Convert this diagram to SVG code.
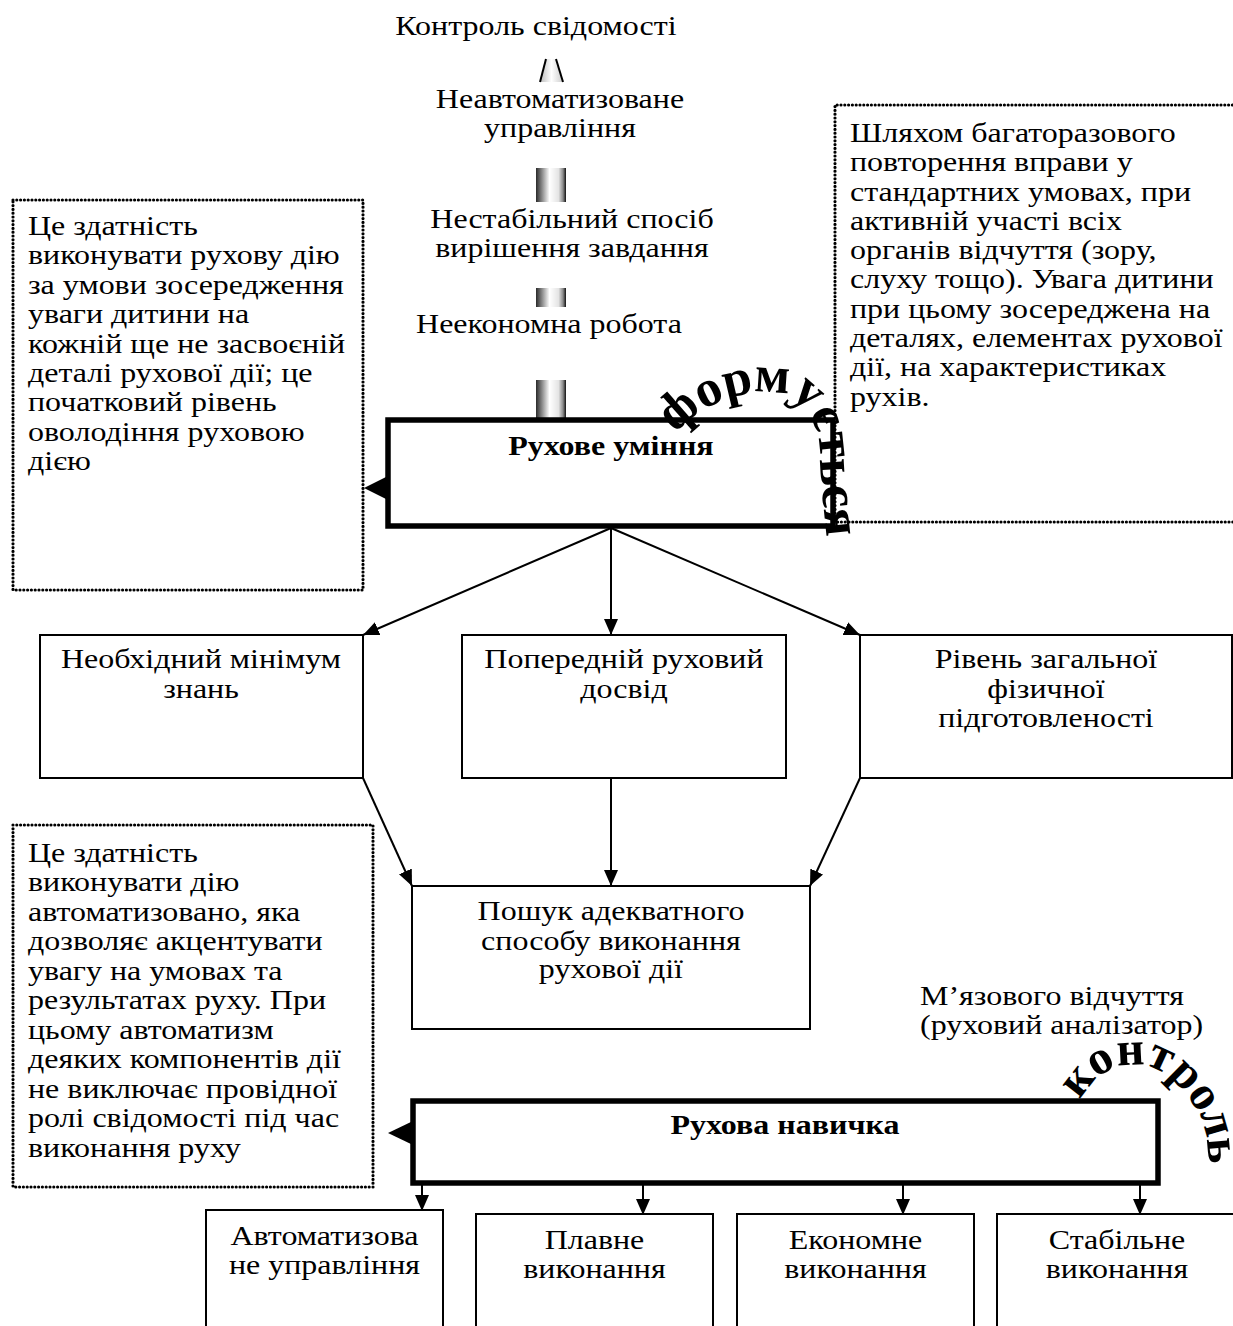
<svg xmlns="http://www.w3.org/2000/svg" width="1233" height="1326" viewBox="0 0 1233 1326">
<defs>
<style>
text{font-family:"Liberation Serif","Times New Roman",serif;font-size:27px;fill:#000}
.s{transform-box:fill-box;transform-origin:0% 50%;transform:scaleX(1.185)}
.c{text-anchor:middle;transform-box:fill-box;transform-origin:50% 50%;transform:scaleX(1.185)}
.b{font-weight:bold}
.big{font-weight:bold;font-size:52px}
.box{fill:#fff;stroke:#000;stroke-width:2}
.thick{fill:#fff;stroke:#000;stroke-width:5.5}
.dot{fill:none;stroke:#000;stroke-width:3.2;stroke-linecap:round;stroke-dasharray:0 3.8}
.con{fill:none;stroke:#000;stroke-width:2}
.bar{fill:url(#g);stroke:none}
</style>
<linearGradient id="g" x1="0" y1="0" x2="1" y2="0">
<stop offset="0" stop-color="#2a2a2a"/>
<stop offset="0.45" stop-color="#ffffff"/>
<stop offset="0.75" stop-color="#e4e4e4"/>
<stop offset="0.9" stop-color="#8a8a8a"/>
<stop offset="1" stop-color="#111"/>
</linearGradient>
<linearGradient id="g2" x1="0" y1="0" x2="1" y2="0">
<stop offset="0" stop-color="#bbb"/>
<stop offset="0.5" stop-color="#fff"/>
<stop offset="1" stop-color="#ccc"/>
</linearGradient>
<marker id="ah" markerUnits="userSpaceOnUse" markerWidth="16" markerHeight="14" refX="16" refY="7" orient="auto">
<path d="M0,0 L16,7 L0,14 z" fill="#000"/>
</marker>
<path id="arc1" d="M676,434 C698,405 738,392 768,392 C800,392 820,420 820,456 C820,490 826,515 830,580"/>
<path id="arc2" d="M1080,1100 C1098,1070 1118,1063 1142,1065 C1167,1068 1188,1093 1200,1116 C1207,1130 1210,1153 1210,1220"/>
</defs>

<g id="top-chain">
<text class="c" x="536" y="35">Контроль свідомості</text>
<polygon points="546,59 556,59 563,82 540,82" fill="url(#g2)"/>
<line x1="546" y1="59" x2="540" y2="82" stroke="#000" stroke-width="2"/>
<line x1="556" y1="59" x2="563" y2="82" stroke="#000" stroke-width="2"/>
<text class="c" x="560" y="108">Неавтоматизоване</text>
<text class="c" x="560" y="137">управління</text>
<rect class="bar" x="536" y="168" width="30" height="34"/>
<text class="c" x="572" y="228">Нестабільний спосіб</text>
<text class="c" x="572" y="257">вирішення завдання</text>
<rect class="bar" x="536" y="288" width="30" height="19"/>
<text class="c" x="549" y="333">Неекономна робота</text>
<rect class="bar" x="536" y="380" width="30" height="38"/>
</g>

<g id="note-top-left">
<rect class="dot" x="13" y="200" width="350" height="390"/>
<text class="s" x="28" y="235">Це здатність</text>
<text class="s" x="28" y="264.4">виконувати рухову дію</text>
<text class="s" x="28" y="293.8">за умови зосередження</text>
<text class="s" x="28" y="323.2">уваги дитини на</text>
<text class="s" x="28" y="352.6">кожній ще не засвоєній</text>
<text class="s" x="28" y="382">деталі рухової дії; це</text>
<text class="s" x="28" y="411.4">початковий рівень</text>
<text class="s" x="28" y="440.8">оволодіння руховою</text>
<text class="s" x="28" y="470.2">дією</text>
</g>

<g id="note-top-right">
<path class="dot" d="M1240,105 H835 V522 H1240"/>
<text class="s" x="850" y="142">Шляхом багаторазового</text>
<text class="s" x="850" y="171.3">повторення вправи у</text>
<text class="s" x="850" y="200.6">стандартних умовах, при</text>
<text class="s" x="850" y="229.9">активній участі всіх</text>
<text class="s" x="850" y="259.2">органів відчуття (зору,</text>
<text class="s" x="850" y="288.5">слуху тощо). Увага дитини</text>
<text class="s" x="850" y="317.8">при цьому зосереджена на</text>
<text class="s" x="850" y="347.1">деталях, елементах рухової</text>
<text class="s" x="850" y="376.4">дії, на характеристиках</text>
<text class="s" x="850" y="405.7">рухів.</text>
</g>

<g id="rukhove-uminnia">
<rect class="thick" x="388" y="420" width="445" height="106"/>
<polygon points="364,488 388,476 388,500" fill="#000"/>
<text class="c b" x="611" y="455">Рухове уміння</text>
</g>

<g id="formuietsia">
<text class="big"><textPath href="#arc1">формується</textPath></text>
</g>

<g id="box-a">
<rect class="box" x="40" y="635" width="323" height="143"/>
<text class="c" x="201" y="668">Необхідний мінімум</text>
<text class="c" x="201" y="698">знань</text>
</g>
<g id="box-b">
<rect class="box" x="462" y="635" width="324" height="143"/>
<text class="c" x="624" y="668">Попередній руховий</text>
<text class="c" x="624" y="698">досвід</text>
</g>
<g id="box-c">
<rect class="box" x="860" y="635" width="372" height="143"/>
<text class="c" x="1046" y="668">Рівень загальної</text>
<text class="c" x="1046" y="698">фізичної</text>
<text class="c" x="1046" y="727">підготовленості</text>
</g>
<g id="box-d">
<rect class="box" x="412" y="886" width="398" height="143"/>
<text class="c" x="611" y="920">Пошук адекватного</text>
<text class="c" x="611" y="950">способу виконання</text>
<text class="c" x="611" y="978">рухової дії</text>
</g>

<g id="note-bottom-left">
<rect class="dot" x="13" y="825" width="360" height="362"/>
<text class="s" x="28" y="862">Це здатність</text>
<text class="s" x="28" y="891.5">виконувати дію</text>
<text class="s" x="28" y="921">автоматизовано, яка</text>
<text class="s" x="28" y="950.5">дозволяє акцентувати</text>
<text class="s" x="28" y="980">увагу на умовах та</text>
<text class="s" x="28" y="1009.5">результатах руху. При</text>
<text class="s" x="28" y="1039">цьому автоматизм</text>
<text class="s" x="28" y="1068.5">деяких компонентів дії</text>
<text class="s" x="28" y="1098">не виключає провідної</text>
<text class="s" x="28" y="1127.5">ролі свідомості під час</text>
<text class="s" x="28" y="1157">виконання руху</text>
</g>

<g id="muscle-note">
<text class="s" x="920" y="1005">М’язового відчуття</text>
<text class="s" x="920" y="1034">(руховий аналізатор)</text>
</g>

<g id="rukhova-navychka">
<rect class="thick" x="413" y="1101" width="745" height="82"/>
<polygon points="388,1133 413,1121 413,1145" fill="#000"/>
<text class="c b" x="785" y="1134">Рухова навичка</text>
</g>

<g id="kontrol">
<text class="big" style="font-size:48px"><textPath href="#arc2">контроль</textPath></text>
</g>

<g id="box-e">
<rect class="box" x="206" y="1210" width="237" height="130"/>
<text class="c" x="324.5" y="1245">Автоматизова</text>
<text class="c" x="324.5" y="1274">не управління</text>
</g>
<g id="box-f">
<rect class="box" x="476" y="1214" width="237" height="130"/>
<text class="c" x="594.5" y="1249">Плавне</text>
<text class="c" x="594.5" y="1278">виконання</text>
</g>
<g id="box-g">
<rect class="box" x="737" y="1214" width="237" height="130"/>
<text class="c" x="855.5" y="1249">Економне</text>
<text class="c" x="855.5" y="1278">виконання</text>
</g>
<g id="box-h">
<rect class="box" x="997" y="1214" width="250" height="130"/>
<text class="c" x="1117" y="1249">Стабільне</text>
<text class="c" x="1117" y="1278">виконання</text>
</g>

<g id="connectors">
<line class="con" x1="611" y1="528" x2="363" y2="635" marker-end="url(#ah)"/>
<line class="con" x1="611" y1="528" x2="611" y2="635" marker-end="url(#ah)"/>
<line class="con" x1="611" y1="528" x2="860" y2="635" marker-end="url(#ah)"/>
<line class="con" x1="363" y1="778" x2="412" y2="886" marker-end="url(#ah)"/>
<line class="con" x1="611" y1="778" x2="611" y2="886" marker-end="url(#ah)"/>
<line class="con" x1="860" y1="778" x2="810" y2="886" marker-end="url(#ah)"/>
<line class="con" x1="422" y1="1185" x2="422" y2="1211" marker-end="url(#ah)"/>
<line class="con" x1="643" y1="1185" x2="643" y2="1215" marker-end="url(#ah)"/>
<line class="con" x1="903" y1="1185" x2="903" y2="1215" marker-end="url(#ah)"/>
<line class="con" x1="1140" y1="1185" x2="1140" y2="1215" marker-end="url(#ah)"/>
</g>
</svg>
